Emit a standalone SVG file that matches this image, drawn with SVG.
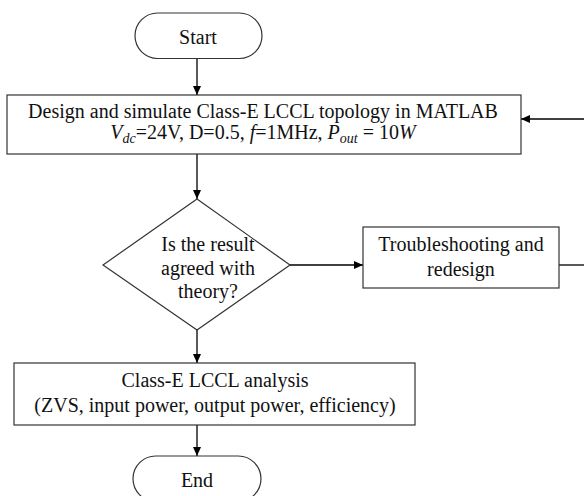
<svg xmlns="http://www.w3.org/2000/svg" width="584" height="496" viewBox="0 0 584 496">
<defs>
<marker id="ah" markerWidth="10" markerHeight="10" refX="9" refY="5" orient="auto" markerUnits="userSpaceOnUse">
<path d="M0,1 L9,5 L0,9 Z" fill="#000"/>
</marker>
<style>
.box{fill:#fff;stroke:#333;stroke-width:1.2}
.t{font-family:"Liberation Serif","Times New Roman",serif;font-size:20px;fill:#111;text-anchor:middle}
.m{font-style:italic}
.c{stroke:#000;stroke-width:1.3;fill:none}
</style>
</defs>
<rect width="584" height="496" fill="#fff"/>
<g id="connectors">
<line class="c" x1="197" y1="58" x2="197" y2="95" marker-end="url(#ah)"/>
<line class="c" x1="197" y1="154" x2="197" y2="199" marker-end="url(#ah)"/>
<line class="c" x1="290" y1="265" x2="363" y2="265" marker-end="url(#ah)"/>
<line class="c" x1="559" y1="265" x2="584" y2="265"/>
<line class="c" x1="584" y1="119" x2="521" y2="119" marker-end="url(#ah)"/>
<line class="c" x1="197" y1="330" x2="197" y2="363" marker-end="url(#ah)"/>
<line class="c" x1="197" y1="425" x2="197" y2="456" marker-end="url(#ah)"/>
</g>
<g id="start">
<rect class="box" x="135" y="13" width="127" height="45.5" rx="22.7"/>
<text class="t" x="198" y="44">Start</text>
</g>
<g id="design">
<rect class="box" x="7" y="95" width="514" height="59"/>
<text class="t" x="263" y="118">Design and simulate Class-E LCCL topology in MATLAB</text>
<text class="t" x="263" y="139"><tspan class="m">V</tspan><tspan class="m" font-size="14" dy="4">dc</tspan><tspan dy="-4">=24V, D=0.5, </tspan><tspan class="m">f</tspan><tspan>=1MHz, </tspan><tspan class="m">P</tspan><tspan class="m" font-size="14" dy="4">out</tspan><tspan dy="-4"> = 10</tspan><tspan class="m">W</tspan></text>
</g>
<g id="decision">
<polygon class="box" points="197,199 290,265 197,330 103,265"/>
<text class="t" x="208" y="251">Is the result</text>
<text class="t" x="208" y="275">agreed with</text>
<text class="t" x="208" y="298">theory?</text>
</g>
<g id="troubleshoot">
<rect class="box" x="363" y="227" width="196" height="61"/>
<text class="t" x="461" y="251">Troubleshooting and</text>
<text class="t" x="461" y="276">redesign</text>
</g>
<g id="analysis">
<rect class="box" x="14" y="363" width="401" height="62"/>
<text class="t" x="215" y="387">Class-E LCCL analysis</text>
<text class="t" x="215" y="412">(ZVS, input power, output power, efficiency)</text>
</g>
<g id="end">
<rect class="box" x="133" y="456" width="128" height="45.5" rx="22.7"/>
<text class="t" x="197" y="487">End</text>
</g>
</svg>
